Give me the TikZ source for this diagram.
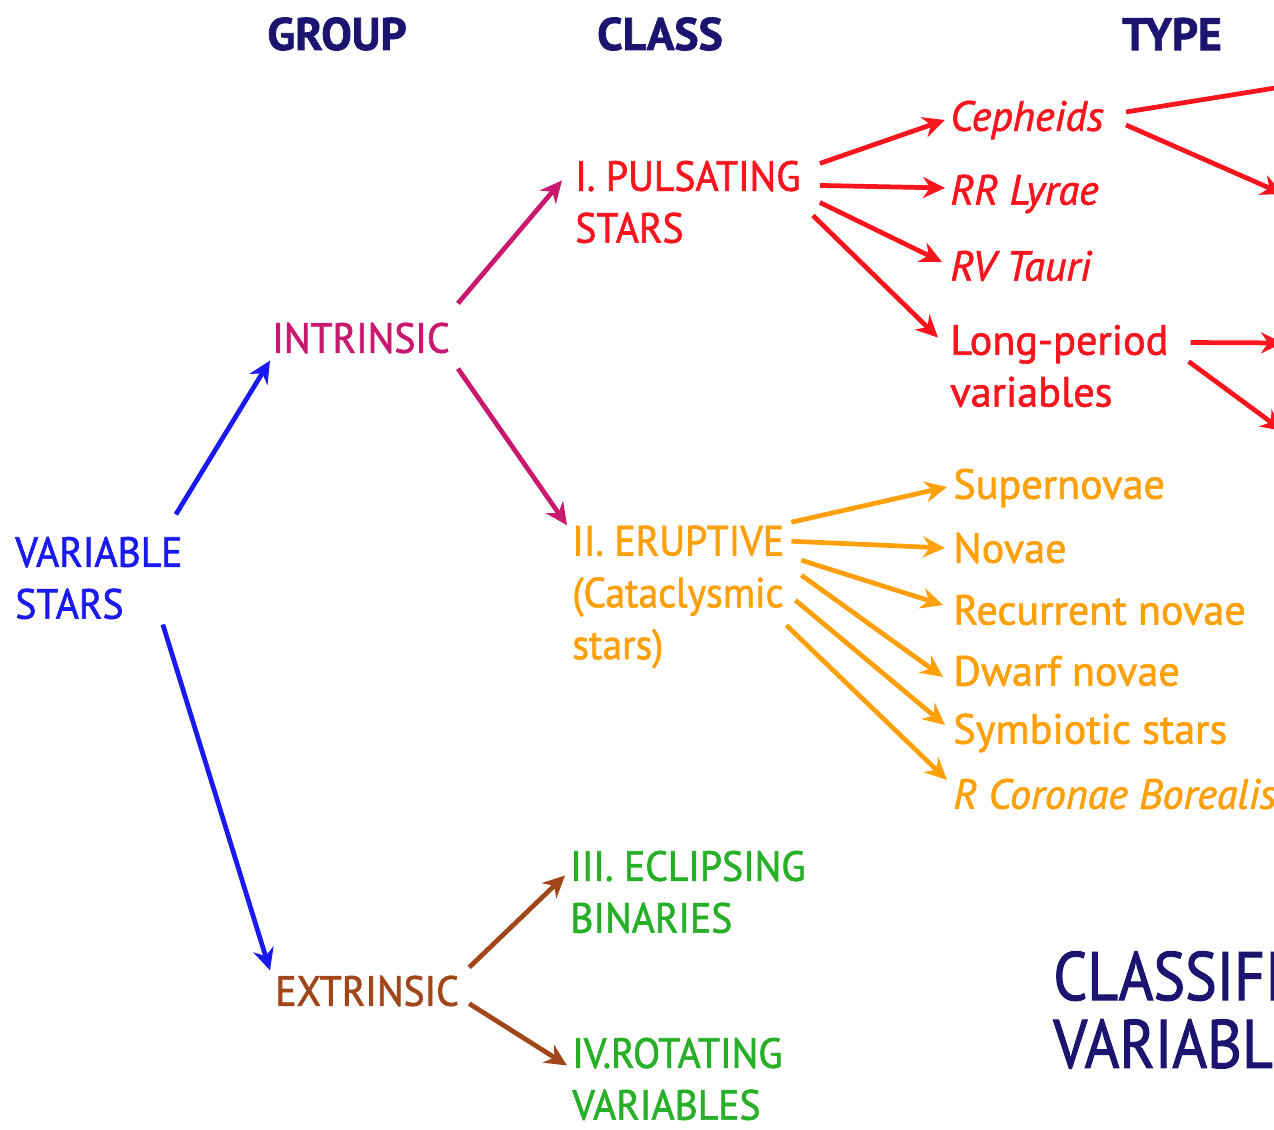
\documentclass[tikz,border=0pt]{standalone}
\usepackage{fontspec}
\setmainfont{PT Sans}[FakeBold=1.5]
\newfontfamily\mayus{PT Sans}[FakeStretch=0.94,FakeBold=1.5]
\newfontfamily\estrecha{PT Sans}[FakeStretch=0.87,FakeBold=1.5]
\usepackage{xcolor}
\usetikzlibrary{arrows.meta,calc,positioning}
\definecolor{marino}{RGB}{28,20,110}
\definecolor{azul}{RGB}{25,25,240}
\definecolor{morado}{RGB}{200,25,110}
\definecolor{rojo}{RGB}{250,20,30}
\definecolor{naranja}{RGB}{255,160,10}
\definecolor{verde}{RGB}{40,175,40}
\definecolor{marron}{RGB}{160,70,25}
\tikzset{
  txt/.style={anchor=west,inner sep=0pt,align=left,font=\fontsize{24}{29.5}\selectfont},
  may/.style={txt,font=\mayus\fontsize{24}{29.5}\selectfont},
  cab/.style={inner sep=0pt,font=\bfseries\fontsize{26}{30}\selectfont,text=marino},
  titulo/.style={anchor=west,inner sep=0pt,align=left,text=marino,font=\estrecha\fontsize{39}{38.6}\selectfont},
  flecha/.style={line width=2.7pt,-{Stealth[length=0.44cm,width=0.42cm]}}
}

\begin{document}
\begin{tikzpicture}
\useasboundingbox (0,0) rectangle (25.48,22.6);
\clip (0,0) rectangle (25.48,22.6);
% cabeceras
\node[cab] (hgrupo) at (6.74,21.92) {GROUP};
\node[cab] (hclase) at (13.20,21.92) {CLASS};
\node[cab] (htipo) at (23.44,21.92) {TYPE};
% grupos
\node[may,text=azul] (vs) at (0.30,11.04) {VARIABLE\\STARS};
\node[may,text=morado] (intr) at (5.44,15.84) {INTRINSIC};
\node[may,text=marron] (extr) at (5.50,2.78) {EXTRINSIC};
% clases
\node[may,text=rojo] (puls) at (11.50,18.56) {I. PULSATING\\STARS};
\node[may,text=naranja] (erup) at (11.44,10.66) {II. ERUPTIVE\\(Cataclysmic\\stars)};
\node[may,text=verde] (ecl) at (11.40,4.76) {III. ECLIPSING\\BINARIES};
\node[may,text=verde] (rot) at (11.44,1.02) {IV.ROTATING\\VARIABLES};
% tipos
\node[txt,text=rojo] (ceph) at (19.00,20.20) {\itshape Cepheids};
\node[txt,text=rojo] (rrl) at (19.00,18.72) {\itshape RR Lyrae};
\node[txt,text=rojo] (rvt) at (19.00,17.28) {\itshape RV Tauri};
\node[txt,text=rojo] (lpv) at (19.00,15.28) {Long-period\\variables};
\node[txt,text=naranja] (sn) at (19.06,12.84) {Supernovae};
\node[txt,text=naranja] (nov) at (19.06,11.64) {Novae};
\node[txt,text=naranja] (rec) at (19.06,10.40) {Recurrent novae};
\node[txt,text=naranja] (dwf) at (19.06,9.18) {Dwarf novae};
\node[txt,text=naranja] (sym) at (19.06,7.94) {Symbiotic stars};
\node[txt,text=naranja] (rcb) at (19.06,6.72) {\itshape R Coronae Borealis};
% titulo
\node[titulo] (tit) at (21.06,2.40) {CLASSIFICATION OF\\VARIABLE STARS};
% extremos fuera del cuadro
\coordinate (f1) at (26.00,20.92);
\coordinate (f2) at (25.66,18.72);
\coordinate (f3) at (25.66,15.74);
\coordinate (f4) at (25.66,13.98);
% flechas
\draw[flecha,azul] ([shift={(-0.14,0.44)}]vs.north east) -- ([shift={(-0.04,-0.14)}]intr.south west);
\draw[flecha,azul] ([shift={(-0.40,-0.10)}]vs.south east) -- ([shift={(-0.10,0.10)}]extr.north west);
\draw[flecha,morado] ([shift={(0.16,0.38)}]intr.north east) -- ([shift={(-0.26,-0.40)}]puls.north west);
\draw[flecha,morado] ([shift={(0.16,-0.30)}]intr.south east) -- ([shift={(-0.10,0)}]erup.north west);
\draw[flecha,marron] ([shift={(0.20,0.16)}]extr.north east) -- ([shift={(-0.10,-0.50)}]ecl.north west);
\draw[flecha,marron] ([shift={(0.20,0.06)}]extr.south east) -- ([shift={(-0.10,-0.56)}]rot.north west);
\draw[flecha,rojo] ([shift={(0.38,-0.06)}]puls.north east) -- ([shift={(-0.10,0)}]ceph.west);
\draw[flecha,rojo] ([shift={(0.38,-0.50)}]puls.north east) -- ([shift={(-0.10,0.12)}]rrl.west);
\draw[flecha,rojo] ([shift={(0.38,-0.84)}]puls.north east) -- ([shift={(-0.16,0.08)}]rvt.west);
\draw[flecha,rojo] ([shift={(0.24,-1.10)}]puls.north east) -- ([shift={(-0.24,-0.26)}]lpv.north west);
\draw[line width=2.7pt,rojo] ([shift={(0.44,0.16)}]ceph.east) -- (f1);
\draw[flecha,rojo] ([shift={(0.44,-0.10)}]ceph.east) -- (f2);
\draw[flecha,rojo] ([shift={(0.44,-0.36)}]lpv.north east) -- (f3);
\draw[flecha,rojo] ([shift={(0.40,-0.74)}]lpv.north east) -- (f4);
\draw[flecha,naranja] ([shift={(0.14,0.06)}]erup.north east) -- ([shift={(-0.12,0.02)}]sn.west);
\draw[flecha,naranja] ([shift={(0.14,-0.32)}]erup.north east) -- ([shift={(-0.16,0)}]nov.west);
\draw[flecha,naranja] ([shift={(0.34,-0.70)}]erup.north east) -- ([shift={(-0.20,0.10)}]rec.west);
\draw[flecha,naranja] ([shift={(0.34,-1.00)}]erup.north east) -- ([shift={(-0.20,-0.12)}]dwf.west);
\draw[flecha,naranja] ([shift={(0.22,-1.50)}]erup.north east) -- ([shift={(-0.16,0.16)}]sym.west);
\draw[flecha,naranja] ([shift={(0.04,-2.00)}]erup.north east) -- ([shift={(-0.12,0.28)}]rcb.west);
\end{tikzpicture}
\end{document}
